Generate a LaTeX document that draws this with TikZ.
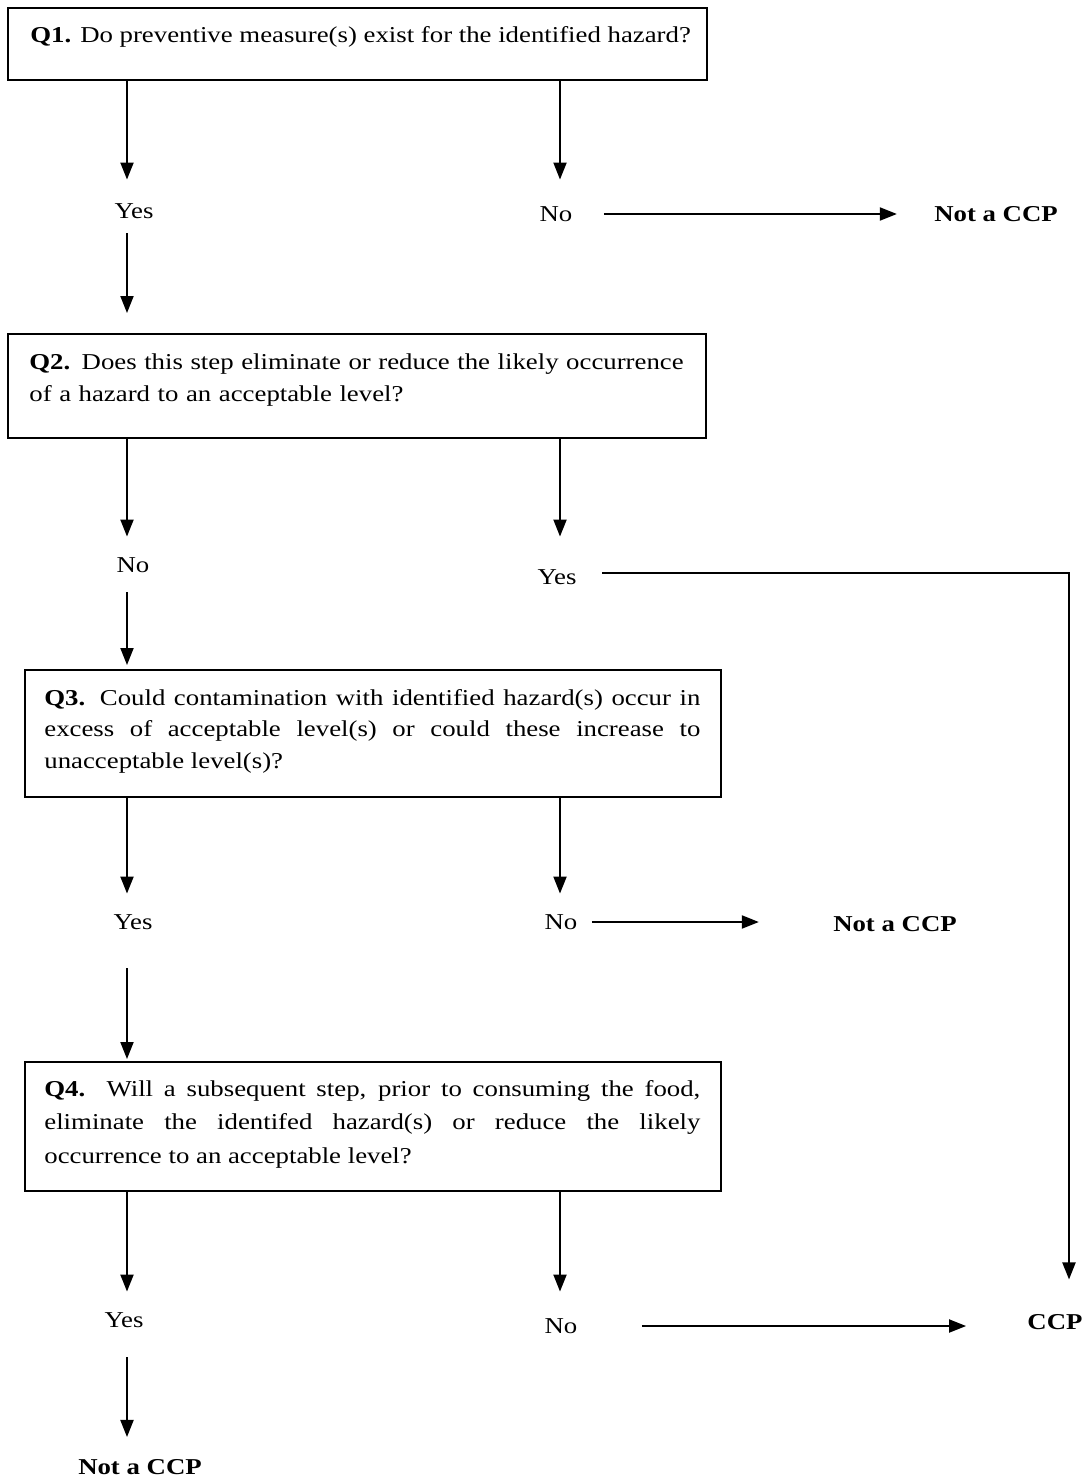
\documentclass[tikz,border=0pt]{standalone}
\usepackage{fontspec}
\setmainfont{Liberation Serif}[FakeStretch=1.18]
\usetikzlibrary{arrows.meta}
\newcommand\myqfont{\fontsize{11.35pt}{16pt}\selectfont}
\tikzset{
  box/.style={draw, line width=1pt, inner sep=0pt, rectangle},
  qtxt/.style={inner sep=0pt, anchor=base west},
  lbl/.style={inner sep=0pt, font=\myqfont},
  blbl/.style={inner sep=0pt, font=\myqfont\bfseries},
  arr/.style={line width=1pt, -{Triangle[width=6.5pt,length=8.5pt]}},
}
\begin{document}
\begin{tikzpicture}[x=0.5pt,y=-0.5pt]
\useasboundingbox (0,0) rectangle (1087,1482);
\coordinate (cl) at (127,0);
\coordinate (cr) at (560,0);
% boxes
\node[box, minimum width=349.5pt, minimum height=36pt] (q1) at (357.5,44.5) {};
\node[qtxt, font=\myqfont] (q1t) at (30,43) {\textbf{Q1.} Do preventive measure(s) exist for the identified hazard?};
\node[box, minimum width=349pt, minimum height=52pt] (q2) at (357,386) {};
\node[qtxt, text width=335pt, align=left, font={\fontsize{11.35pt}{16pt}\selectfont}] (q2t) at (29,369) {\textbf{Q2.} Does this step eliminate or reduce the likely occurrence of a hazard to an acceptable level?};
\node[box, minimum width=348pt, minimum height=63.5pt] (q3) at (373,733.5) {};
\node[qtxt, text width=328pt, align=justify, font={\fontsize{11.35pt}{15.75pt}\selectfont}] (q3t) at (44,705) {\textbf{Q3.} Could contamination with identified hazard(s) occur in\linebreak excess of acceptable level(s) or could these increase to\linebreak unacceptable level(s)?};
\node[box, minimum width=348pt, minimum height=64.5pt] (q4) at (373,1126.5) {};
\node[qtxt, text width=328pt, align=justify, font={\fontsize{11.35pt}{16.75pt}\selectfont}] (q4t) at (44,1096) {\textbf{Q4.} Will a subsequent step, prior to consuming the food,\linebreak eliminate the identifed hazard(s) or reduce the likely\linebreak occurrence to an acceptable level?};
% labels
\node[lbl] (yes1) at (134,211) {Yes};
\node[lbl] (no1) at (556,214) {No};
\node[blbl] (n1) at (996,214) {Not a CCP};
\node[lbl] (no2) at (133,565) {No};
\node[lbl] (yes2) at (557,577) {Yes};
\coordinate (c2) at (1069,573);
\node[lbl] (yes3) at (133,922) {Yes};
\node[lbl] (no3) at (561,922) {No};
\node[blbl] (n3) at (895,924) {Not a CCP};
\node[lbl] (yes4) at (124,1320) {Yes};
\node[lbl] (no4) at (561,1326) {No};
\node[blbl] (ccp) at (1055,1322) {CCP};
\node[blbl] (n4) at (140,1467) {Not a CCP};
% connectors
\draw[arr, shorten >=11.75pt] (q1.south -| cl) -- (yes1.north -| cl);
\draw[arr, shorten <=7.25pt, shorten >=10pt] (yes1.south -| cl) -- (q2.north -| cl);
\draw[arr, shorten >=13.25pt] (q1.south -| cr) -- (no1.north -| cr);
\draw[arr, shorten <=15.5pt, shorten >=18.5pt] (no1.east) -- (n1.west);
\draw[arr, shorten >=10.25pt] (q2.south -| cl) -- (no2.north -| cl);
\draw[arr, shorten <=9.75pt, shorten >=2pt] (no2.south -| cl) -- (q3.north -| cl);
\draw[arr, shorten >=16.25pt] (q2.south -| cr) -- (yes2.north -| cr);
\draw[arr, shorten <=12.75pt, shorten >=17.25pt] (yes2.east |- c2) -- (c2) -- (ccp.north -| c2);
\draw[arr, shorten >=10.25pt] (q3.south -| cl) -- (yes3.north -| cl);
\draw[arr, shorten <=19.25pt, shorten >=1pt] (yes3.south -| cl) -- (q4.north -| cl);
\draw[arr, shorten >=10.25pt] (q3.south -| cr) -- (no3.north -| cr);
\draw[arr, shorten <=7pt, shorten >=37pt] (no3.east) -- (n3.west |- no3.east);
\draw[arr, shorten >=10.25pt] (q4.south -| cl) -- (yes4.north -| cl);
\draw[arr, shorten <=14.75pt, shorten >=11pt] (yes4.south -| cl) -- (n4.north -| cl);
\draw[arr, shorten >=13.25pt] (q4.south -| cr) -- (no4.north -| cr);
\draw[arr, shorten <=32pt, shorten >=30.5pt] (no4.east) -- (ccp.west |- no4.east);
\end{tikzpicture}
\end{document}
